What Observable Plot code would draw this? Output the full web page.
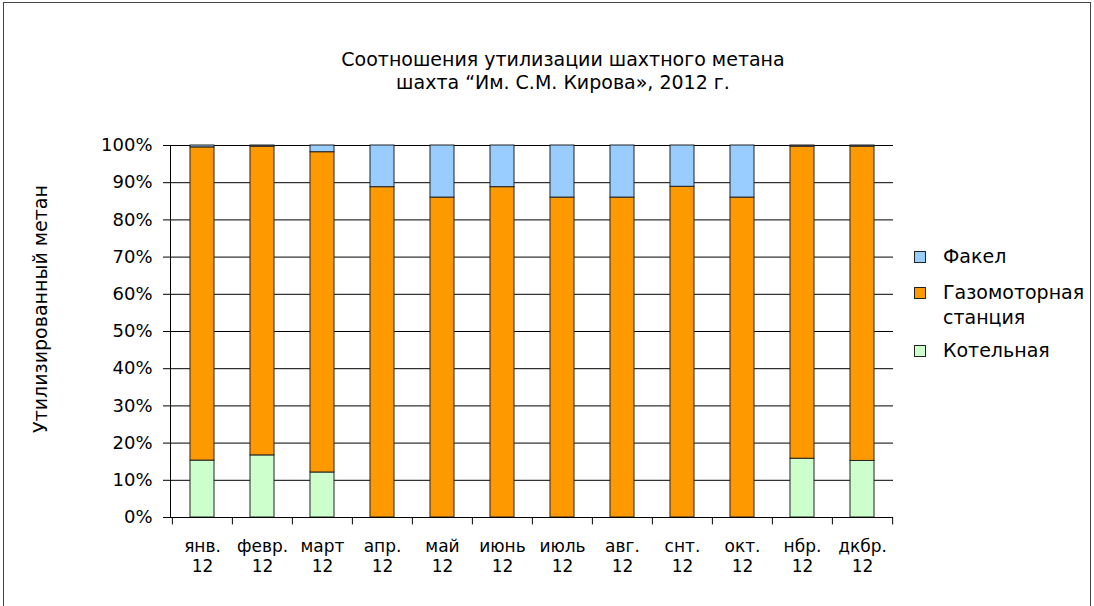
<!DOCTYPE html>
<html>
<head>
<meta charset="utf-8">
<script src="https://cdn.jsdelivr.net/npm/d3@7"></script>
<script src="https://cdn.jsdelivr.net/npm/@observablehq/plot@0.6"></script>
<style>
  body { margin: 0; background: #fff; }
  #wrap { position: relative; width: 1094px; height: 606px; overflow: hidden; font-family: "DejaVu Sans", Verdana, sans-serif; color: #000; }
  #frame { position: absolute; left: 3px; top: 2px; width: 1086px; height: 620px; border: 1px solid #444; }
  #title { position: absolute; left: 213px; width: 700px; top: 48px; text-align: center; font-size: 19px; line-height: 23px; }
  #ylabel { position: absolute; left: 40px; top: 309px; transform: translate(-50%, -50%) rotate(-90deg); white-space: nowrap; font-size: 19px; }
  #legend { position: absolute; left: 914px; top: 244px; font-size: 19px; }
  .li { position: relative; padding-left: 29px; }
  .sw { position: absolute; left: 0; width: 10px; height: 10px; border: 1px solid #222; }
  #plot { position: absolute; left: 0; top: 0; }
</style>
</head>
<body>
<div id="wrap">
  <div id="frame"></div>
  <div id="plot"></div>
  <div id="title">Соотношения утилизации шахтного метана<br>шахта “Им. С.М. Кирова», 2012 г.</div>
  <div id="ylabel">Утилизированный метан</div>
  <div id="legend"></div>
</div>
<script>
const months = ["янв.", "февр.", "март", "апр.", "май", "июнь", "июль", "авг.", "снт.", "окт.", "нбр.", "дкбр."];
const yearLabel = "12";
const series = ["Котельная", "Газомоторная станция", "Факел"];
const colors = ["#ccffcc", "#ff9900", "#99ccff"];
const kotel = [15.3, 16.7, 12.1, 0, 0, 0, 0, 0, 0, 0, 15.8, 15.2];
const gaz   = [84.2, 83.0, 86.1, 88.8, 86.0, 88.8, 86.0, 86.0, 88.9, 86.0, 83.9, 84.5];
const fakel = [0.5, 0.3, 1.8, 11.2, 14.0, 11.2, 14.0, 14.0, 11.1, 14.0, 0.3, 0.3];
const yTicks = [0, 10, 20, 30, 40, 50, 60, 70, 80, 90, 100];

const valuesBySeries = [kotel, gaz, fakel];
const table = [];
series.forEach((s, si) => months.forEach((m, mi) => table.push({month: m, series: s, value: valuesBySeries[si][mi]})));

const W = 1094, H = 606, mL = 170, mR = 201, mT = 145, mB = 89;
const step = (W - mL - mR) / months.length;

const chart = Plot.plot({
  width: W, height: H,
  marginLeft: mL, marginRight: mR, marginTop: mT, marginBottom: mB,
  style: {fontFamily: "DejaVu Sans, Verdana, sans-serif", fontSize: "18px", color: "#000", background: "transparent", overflow: "visible"},
  x: {domain: months, paddingInner: 0.6, paddingOuter: 0.3, label: null},
  y: {domain: [0, 100], label: null},
  color: {domain: series, range: colors},
  marks: [
    Plot.gridY(yTicks, {stroke: "#000", strokeOpacity: 1, strokeWidth: 1}),
    Plot.barY(table, Plot.stackY({x: "month", y: "value", fill: "series", order: series, stroke: "#222", strokeWidth: 1})),
    Plot.axisY(yTicks, {tickSize: 7, tickPadding: 11, tickFormat: d => d + "%", label: null, fontSize: 18, stroke: "#000"}),
    Plot.frame({anchor: "left", stroke: "#000"}),
    Plot.ruleY([0], {stroke: "#000"}),
    Plot.ruleX(months, {x: d => d, dx: -step / 2, y1: 0, y2: -2, stroke: "#000"}),
    Plot.ruleX([months[months.length - 1]], {x: d => d, dx: step / 2, y1: 0, y2: -2, stroke: "#000"}),
    Plot.axisX({tickSize: 0, tickPadding: 20, tickFormat: m => m + "\n" + yearLabel, lineHeight: 1.2, fontSize: 17, label: null})
  ]
});
document.getElementById("plot").appendChild(chart);

// legend (top to bottom: Факел, Газомоторная станция, Котельная)
const legend = document.getElementById("legend");
const legendItems = [
  {color: colors[2], html: "Факел", top: 0},
  {color: colors[1], html: "Газомоторная<br>станция", top: 36},
  {color: colors[0], html: "Котельная", top: 94}
];
legendItems.forEach(it => {
  const d = document.createElement("div");
  d.className = "li";
  d.style.position = "absolute";
  d.style.top = it.top + "px";
  d.style.lineHeight = "25px";
  d.style.whiteSpace = "nowrap";
  d.innerHTML = `<span class="sw" style="background:${it.color};top:7px"></span>${it.html}`;
  legend.appendChild(d);
});
</script>
</body>
</html>
